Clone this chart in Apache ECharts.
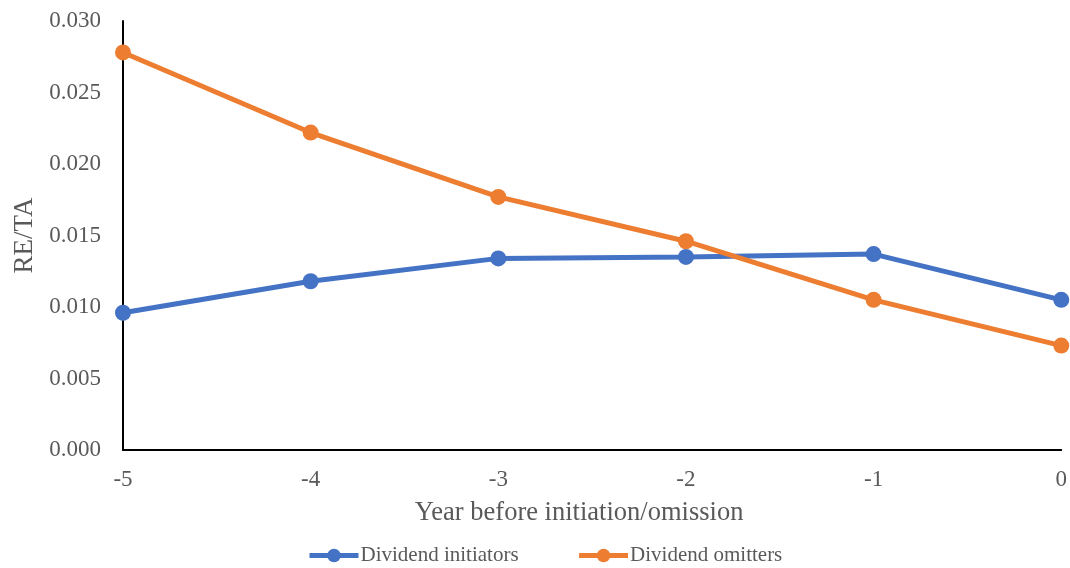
<!DOCTYPE html>
<html>
<head>
<meta charset="utf-8">
<script src="https://cdn.jsdelivr.net/npm/echarts@6/dist/echarts.min.js"></script>
<style>
  html, body { margin: 0; padding: 0; background: #fff; }
  #chart { width: 1070px; height: 568px; }
</style>
</head>
<body>
<div id="chart"></div>
<script>
// Years before the event
const years = ['-5', '-4', '-3', '-2', '-1', '0'];
// Retained earnings / total assets
const initiators = [0.0096, 0.0118, 0.0134, 0.0135, 0.0137, 0.0105];
const omitters = [0.0278, 0.0222, 0.0177, 0.0146, 0.0105, 0.0073];

const FONT = '"Liberation Serif", "Times New Roman", serif';
const TEXT = '#595959';

const chart = echarts.init(document.getElementById('chart'));
chart.setOption({
  animation: false,
  textStyle: { fontFamily: FONT },
  grid: { left: 123, right: 8, top: 21, bottom: 118, containLabel: false },
  legend: {
    top: 545,
    left: 307,
    padding: 0,
    itemWidth: 49,
    itemHeight: 17,
    itemGap: 58,
    lineStyle: { width: 5 },
    textStyle: { fontFamily: FONT, fontSize: 21, color: TEXT, padding: [0, 0, 0, -3] },
    data: ['Dividend initiators', 'Dividend omitters']
  },
  xAxis: {
    type: 'category',
    data: years,
    boundaryGap: false,
    name: 'Year before initiation/omission',
    nameLocation: 'middle',
    nameGap: 50,
    nameTextStyle: {
      fontFamily: FONT, fontSize: 26.5, color: TEXT, verticalAlign: 'top',
      padding: [0, 26, 0, 0]
    },
    axisLine: { lineStyle: { color: '#000', width: 2 } },
    axisTick: { show: false },
    axisLabel: { fontFamily: FONT, fontSize: 23, color: TEXT, margin: 18 },
    splitLine: { show: false }
  },
  yAxis: {
    type: 'value',
    min: 0,
    max: 0.03,
    interval: 0.005,
    name: 'RE/TA',
    nameLocation: 'middle',
    nameGap: 80,
    nameTextStyle: { fontFamily: FONT, fontSize: 27, color: TEXT },
    axisLine: { show: true, lineStyle: { color: '#000', width: 2 } },
    axisTick: { show: false },
    axisLabel: {
      fontFamily: FONT, fontSize: 23, color: TEXT, margin: 22,
      formatter: v => v.toFixed(3)
    },
    splitLine: { show: false }
  },
  series: [
    {
      name: 'Dividend initiators',
      type: 'line',
      data: initiators,
      symbol: 'circle',
      symbolSize: 16,
      itemStyle: { color: '#4472C4' },
      lineStyle: { color: '#4472C4', width: 5 }
    },
    {
      name: 'Dividend omitters',
      type: 'line',
      data: omitters,
      symbol: 'circle',
      symbolSize: 16,
      itemStyle: { color: '#ED7D31' },
      lineStyle: { color: '#ED7D31', width: 5 }
    }
  ]
});
</script>
</body>
</html>
